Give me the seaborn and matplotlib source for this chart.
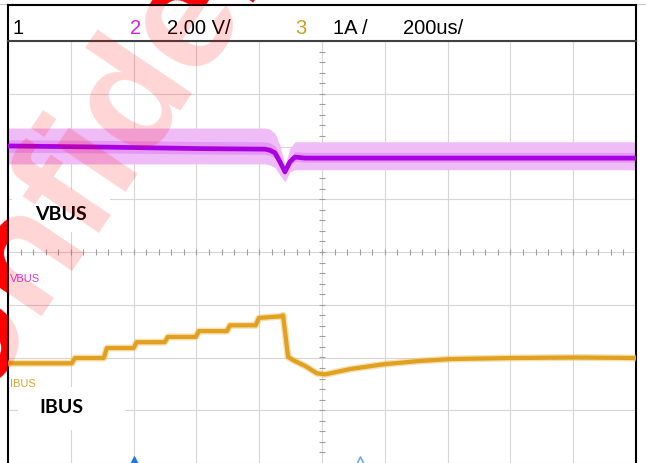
import numpy as np
import pandas as pd
import seaborn as sns
import matplotlib.pyplot as plt
from matplotlib.patches import Rectangle

# === Scope traces (time in us, level in divisions from centre) ===
vbus_t = [0, 293, 611, 818, 834, 850, 866, 882, 898, 914, 946, 1248, 2000]
vbus_mid = [2.01, 1.99, 1.96, 1.95, 1.93, 1.88, 1.71, 1.52, 1.71, 1.80, 1.78, 1.78, 1.78]
vbus_top = [2.35, 2.35, 2.35, 2.35, 2.33, 2.25, 2.03, 1.65, 1.97, 2.09, 2.09, 2.09, 2.09]
vbus_bot = [1.67, 1.67, 1.67, 1.67, 1.65, 1.60, 1.46, 1.33, 1.52, 1.56, 1.56, 1.56, 1.56]

ibus_t = [0, 203, 213, 305, 315, 400, 410, 499, 509, 598, 608, 697, 707, 789, 799,
          868, 876, 892, 908, 946, 984, 1010, 1089, 1194, 1303, 1408, 1602, 1806, 2000]
ibus_v = [-2.11, -2.11, -2.01, -2.01, -1.82, -1.82, -1.71, -1.71, -1.61, -1.61, -1.50,
          -1.50, -1.39, -1.39, -1.25, -1.22, -1.20, -1.99, -2.05, -2.16, -2.30, -2.32,
          -2.22, -2.13, -2.07, -2.03, -2.01, -2.00, -2.01]

# header readout
header_items = ["1", "2", "2.00 V/", "3", "1A /", "200us/"]
header_x = [4, 122, 159, 287, 325, 395]
header_colors = ["black", "#e020e0", "black", "#c8a028", "black", "black"]

# trigger markers (time in us)
trig_filled_t = [400]
trig_hollow_t = [1121]

vbus = pd.DataFrame({"t": vbus_t, "v": vbus_mid})
ibus = pd.DataFrame({"t": ibus_t, "v": ibus_v})

sns.set_style("white")
plt.rcParams["font.family"] = ["Liberation Sans", "DejaVu Sans"]

W, H = 646, 463
fig = plt.figure(figsize=(W / 100, H / 100), dpi=100)

# === Watermark (strong copy sits behind the screen, faint copy on top) ===
wm = dict(rotation=56, rotation_mode="anchor", ha="center", va="center",
          fontsize=114, fontweight="bold", color="red", family="Liberation Sans")
fig.text(138 / W, 1 - 92 / H, "Confidential", zorder=-5, **wm)

# === Main graticule ===
ax = fig.add_axes([8 / W, 0, 628 / W, 422 / H])
ax.set_xlim(0, 2000)
ax.set_ylim(-4, 4)
ax.set_xticks(range(0, 2001, 200))
ax.set_yticks(range(-4, 5))
ax.grid(True, color="#d6d6d6", lw=0.8)
ax.tick_params(length=0, labelbottom=False, labelleft=False)
for s in ["top", "bottom"]:
    ax.spines[s].set_visible(False)
for s in ["left", "right"]:
    ax.spines[s].set_color("black")
    ax.spines[s].set_linewidth(1.5)

# centre axes with minor ticks
ax.plot(np.arange(0, 2001, 40), np.zeros(51), ls="none", marker="|", ms=5,
        mew=0.8, color="#a0a0a0")
ax.plot(np.full(41, 1000), np.arange(-4, 4.01, 0.2), ls="none", marker="_", ms=5,
        mew=0.8, color="#a0a0a0")

# VBUS trace (noisy envelope + core)
ax.fill_between(vbus_t, vbus_bot, vbus_top, color="#f0bcf8", lw=0, zorder=2)
mid_hi = [m + (tp - m) * 0.35 for m, tp in zip(vbus_mid, vbus_top)]
mid_lo = [m - (m - b) * 0.35 for m, b in zip(vbus_mid, vbus_bot)]
ax.fill_between(vbus_t, mid_lo, mid_hi, color="#dc7cf2", alpha=0.55, lw=0, zorder=2)
sns.lineplot(data=vbus, x="t", y="v", ax=ax, color="#a800e0", lw=3.4, zorder=3)

# IBUS trace
sns.lineplot(data=ibus, x="t", y="v", ax=ax, color="#f0c060", lw=5, alpha=0.5, zorder=3)
sns.lineplot(data=ibus, x="t", y="v", ax=ax, color="#e0a020", lw=3, zorder=3)
ax.set_xlabel("")
ax.set_ylabel("")

# small channel labels
ax.text(6, -0.51, "VBUS", color="#d040f0", fontsize=8, ha="left", va="center", zorder=4)
ax.text(6, -2.50, "IBUS", color="#d8a830", fontsize=8, ha="left", va="center", zorder=4)

# white label boxes
ax.add_patch(Rectangle((13, 0.38), 312, 0.80, fc="white", ec="none", zorder=5))
ax.add_patch(Rectangle((32, -3.37), 341, 0.81, fc="white", ec="none", zorder=5))
lab = dict(fontsize=14, fontweight="bold", color="black", ha="center", va="center",
           family=["Lato", "DejaVu Sans"], zorder=6)
ax.text(169, 0.72, "VBUS", **lab)
ax.text(169, -2.94, "IBUS", **lab)

# trigger markers at the bottom edge
ax.scatter(trig_filled_t, [-4] * len(trig_filled_t), marker="^", s=90,
           color="#1f78e0", zorder=6, clip_on=True)
ax.scatter(trig_hollow_t, [-4] * len(trig_hollow_t), marker="^", s=90,
           facecolor="white", edgecolor="#6aaaf0", lw=1.2, zorder=6, clip_on=True)

# === Header readout ===
hx = fig.add_axes([8 / W, 422 / H, 628 / W, 36 / H])
hx.set_xlim(0, 628)
hx.set_ylim(36, 0)
hx.set_xticks([])
hx.set_yticks([])
for s in hx.spines.values():
    s.set_color("black")
    s.set_linewidth(1.5)
hx.spines["bottom"].set_color("#404040")
for txt, x, c in zip(header_items, header_x, header_colors):
    hx.text(x, 23, txt, color=c, fontsize=14.5, ha="left", va="center")

# faint frame line above the screen
fig.add_artist(plt.Line2D([0, 1], [1 - 4 / H, 1 - 4 / H], color="#c8c8c8", lw=0.8,
                          zorder=-4))

fig.text(138 / W, 1 - 92 / H, "Confidential", zorder=20, alpha=0.17, **wm)

fig.savefig("out.png", dpi=100)
